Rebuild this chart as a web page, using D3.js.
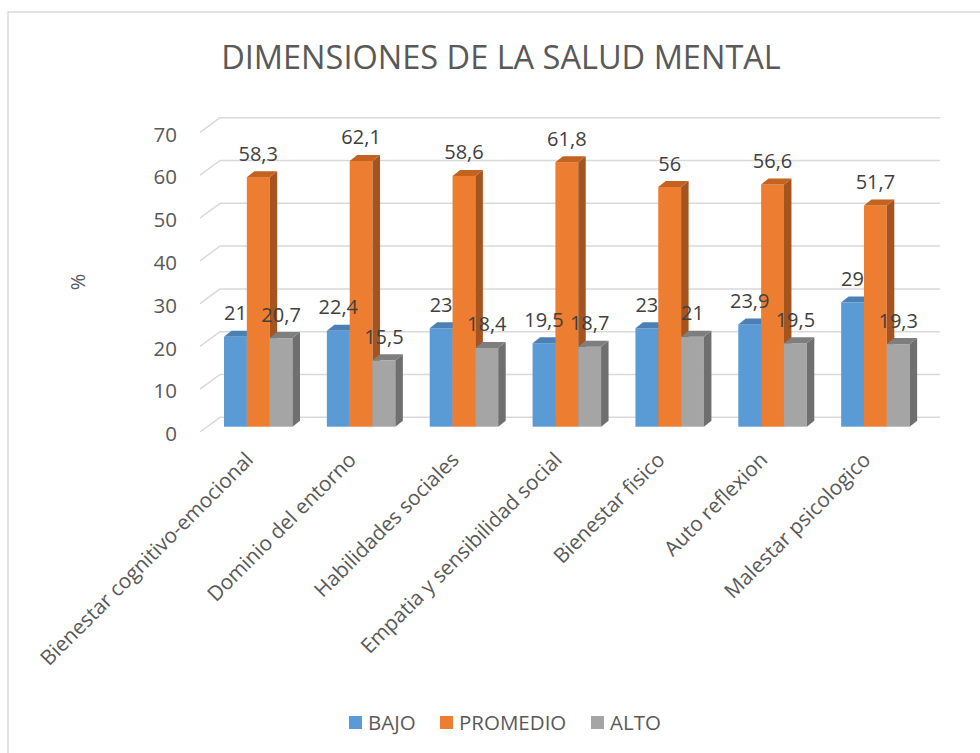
<!DOCTYPE html>
<html>
<head>
<meta charset="utf-8">
<script src="https://cdn.jsdelivr.net/npm/d3@7"></script>
<style>
  body { margin: 0; background: #fff; }
  text { font-family: "Open Sans", "Noto Sans", sans-serif; }
</style>
</head>
<body>
<div id="chart"></div>
<script>
'use strict'

const categories = ['Bienestar cognitivo-emocional', 'Dominio del entorno', 'Habilidades sociales',
                    'Empatia y sensibilidad social', 'Bienestar fisico', 'Auto reflexion', 'Malestar psicologico'];
const series = ['BAJO', 'PROMEDIO', 'ALTO'];
const bajo = [21, 22.4, 23, 19.5, 23, 23.9, 29];
const promedio = [58.3, 62.1, 58.6, 61.8, 56, 56.6, 51.7];
const alto = [20.7, 15.5, 18.4, 18.7, 21, 19.5, 19.3];
const yTicks = [0, 10, 20, 30, 40, 50, 60, 70];

const colors = {
    BAJO:     {front: '#5B9BD5', side: '#41719C', top: '#4A80B4'},
    PROMEDIO: {front: '#ED7D31', side: '#A5541F', top: '#C4621F'},
    ALTO:     {front: '#A5A5A5', side: '#6F6F6F', top: '#7E7E7E'}
};

const width = 980, height = 753;
const depth = {dx: 7.5, dy: -6};      // bar depth
const back = {dx: 13, dy: -9.4};      // back wall offset from bar plane
const front = {dx: -7, dy: 5.3};      // front floor edge offset

const svg = d3.select('#chart').append('svg')
    .attr('width', width)
    .attr('height', height);

svg.append('rect')
    .attr('x', 8).attr('y', 12)
    .attr('width', 1000).attr('height', 800)
    .attr('fill', '#fff')
    .attr('stroke', '#d9d9d9')
    .attr('stroke-width', 1.5);

const x = d3.scaleBand().domain(categories).range([207, 927]);
const xs = d3.scaleBand().domain(series).range([17, 85.5]);
const y = d3.scaleLinear().domain([0, 70]).range([426.7, 127.1]);

// gridlines on the back wall + floor diagonal
const grid = svg.append('g');
yTicks.forEach(t => {
    const yy = y(t);
    grid.append('line')
        .attr('x1', x.range()[0] + back.dx).attr('x2', x.range()[1] + back.dx)
        .attr('y1', yy + back.dy).attr('y2', yy + back.dy)
        .attr('stroke', '#d9d9d9').attr('stroke-width', 1.5);
    grid.append('line')
        .attr('x1', x.range()[0] + front.dx).attr('y1', yy + front.dy)
        .attr('x2', x.range()[0] + back.dx).attr('y2', yy + back.dy)
        .attr('stroke', '#d9d9d9').attr('stroke-width', 1.5);
});

svg.append('g').selectAll('text')
    .data(yTicks)
    .enter().append('text')
    .attr('x', 177)
    .attr('y', d => y(d) + front.dy + 2)
    .attr('dy', '0.35em')
    .attr('text-anchor', 'end')
    .attr('fill', '#595959')
    .style('font-size', '20.5px')
    .text(d => d);

svg.append('text')
    .attr('transform', 'translate(78,282) rotate(-90)')
    .attr('text-anchor', 'middle')
    .attr('dy', '0.35em')
    .attr('fill', '#595959')
    .style('font-size', '20px')
    .text('%');

const values = {BAJO: bajo, PROMEDIO: promedio, ALTO: alto};
const bars = [];
categories.forEach((c, i) => {
    series.forEach(s => {
        bars.push({cat: c, s: s, v: values[s][i]});
    });
});

const barG = svg.append('g');
bars.forEach(d => {
    const x0 = x(d.cat) + xs(d.s);
    const x1 = x0 + xs.bandwidth();
    const y0 = y(0);
    const y1 = y(d.v);
    const col = colors[d.s];
    barG.append('rect')
        .attr('x', x0).attr('y', y1)
        .attr('width', x1 - x0).attr('height', y0 - y1)
        .attr('fill', col.front);
    barG.append('path')
        .attr('d', `M${x1},${y1} L${x1 + depth.dx},${y1 + depth.dy} L${x1 + depth.dx},${y0 + depth.dy} L${x1},${y0} Z`)
        .attr('fill', col.side);
    barG.append('path')
        .attr('d', `M${x0},${y1} L${x0 + depth.dx},${y1 + depth.dy} L${x1 + depth.dx},${y1 + depth.dy} L${x1},${y1} Z`)
        .attr('fill', col.top);
});

svg.append('g').selectAll('text')
    .data(bars)
    .enter().append('text')
    .attr('x', d => x(d.cat) + xs(d.s) + xs.bandwidth() / 2)
    .attr('y', d => y(d.v) - 16.5)
    .attr('text-anchor', 'middle')
    .attr('fill', '#404040')
    .style('font-size', '20px')
    .text(d => String(d.v).replace('.', ','));

svg.append('g').selectAll('text')
    .data(categories)
    .enter().append('text')
    .attr('transform', d => `translate(${x(d) + x.bandwidth() / 2 - 9},${456}) rotate(-45)`)
    .attr('text-anchor', 'end')
    .attr('dy', '0.35em')
    .attr('fill', '#595959')
    .style('font-size', '20.7px')
    .text(d => d);

svg.append('text')
    .attr('x', 501).attr('y', 58)
    .attr('dy', '0.35em')
    .attr('text-anchor', 'middle')
    .attr('fill', '#595959')
    .style('font-size', '32.5px')
    .text('DIMENSIONES DE LA SALUD MENTAL');

const legend = svg.append('g');
const legendX = [349, 440, 591];
series.forEach((s, i) => {
    legend.append('rect')
        .attr('x', legendX[i]).attr('y', 716)
        .attr('width', 13).attr('height', 13)
        .attr('fill', colors[s].front);
    legend.append('text')
        .attr('x', legendX[i] + 19).attr('y', 722.5)
        .attr('dy', '0.35em')
        .attr('fill', '#595959')
        .style('font-size', '20.5px')
        .text(s);
});
</script>
</body>
</html>
